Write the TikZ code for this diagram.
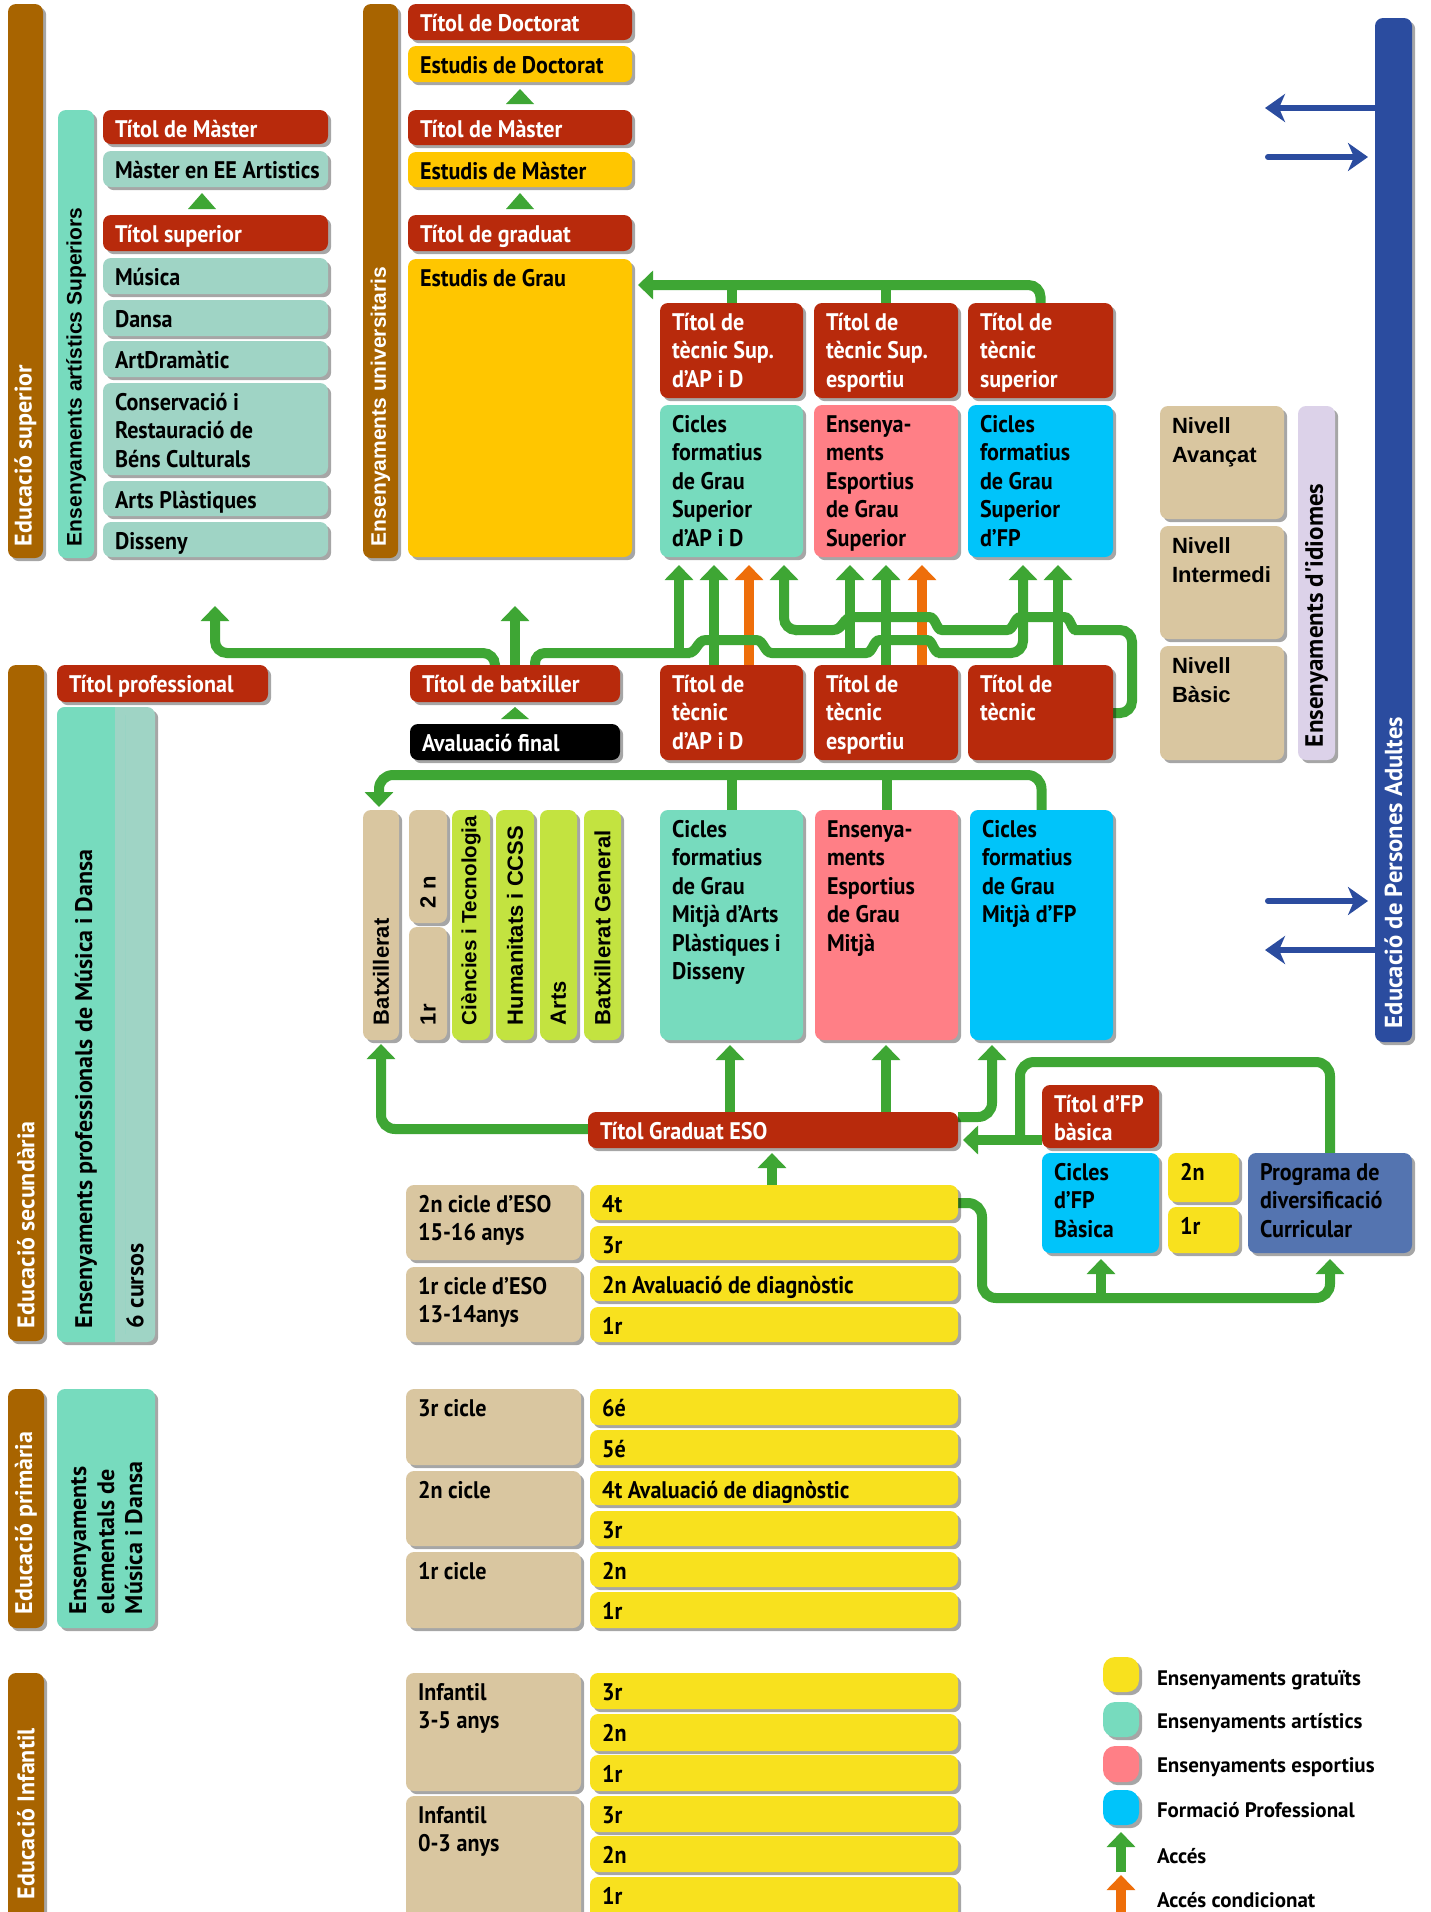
\documentclass[tikz,border=0pt]{standalone}
\usepackage{fontspec}
\setmainfont{PT Sans}[FakeStretch=0.92]
\newfontfamily\nfont{PT Sans}
\newfontfamily\wfont{Liberation Sans}
\usetikzlibrary{shadows,arrows.meta,calc}
\pgfdeclarelayer{bg}
\pgfsetlayers{bg,main}
\definecolor{cbrown}{HTML}{A86400}
\definecolor{cred}{HTML}{B82A0C}
\definecolor{cgold}{HTML}{FFC600}
\definecolor{clemon}{HTML}{F8E11E}
\definecolor{cteal}{HTML}{77DBBE}
\definecolor{clteal}{HTML}{9FD4C5}
\definecolor{cpink}{HTML}{FF7F86}
\definecolor{ccyan}{HTML}{00C4FA}
\definecolor{ctan}{HTML}{D9C6A0}
\definecolor{clime}{HTML}{C3E340}
\definecolor{cprog}{HTML}{5474B0}
\definecolor{cadult}{HTML}{2B4C9F}
\definecolor{clav}{HTML}{DCD2E9}
\definecolor{cgreen}{HTML}{3EA634}
\definecolor{corange}{HTML}{EE6E0A}
\tikzset{
 bxs/.style={rounded corners=4pt, inner sep=0pt, outer sep=0pt, anchor=north west,
   drop shadow={shadow xshift=1.6pt, shadow yshift=-1.6pt, opacity=0.35, fill=black}},
 tx/.style={inner sep=0pt, outer sep=0pt, anchor=base west, font=\bfseries\fontsize{12}{14.25}\selectfont},
 wt/.style={text=white},
 nv/.style={font=\wfont\bfseries\fontsize{11}{14.5}\selectfont},
 vtx/.style={rotate=90, anchor=west, inner sep=0pt, outer sep=0pt, font=\nfont\bfseries\fontsize{12}{14}\selectfont},
 vbr/.style={vtx, text=white, font=\nfont\bfseries\fontsize{12}{14}\selectfont},
 vwx/.style={vtx, font=\wfont\bfseries\fontsize{11}{12}\selectfont},
 vwl/.style={vtx, font=\wfont\bfseries\fontsize{10.5}{12}\selectfont},
 gln/.style={draw=cgreen, line width=5pt},
 garr/.style={gln, -{Triangle[width=14pt,length=7.5pt]}},
 oarr/.style={draw=corange, line width=5pt, -{Triangle[width=14pt,length=7.5pt]}},
 barr/.style={draw=cadult, line width=3pt, line cap=round, -{Stealth[width=14pt,length=10pt,inset=3pt]}},
 lgt/.style={tx, font=\nfont\bfseries\fontsize{10.5}{12}\selectfont},
}
\newcommand\myrb[6]{\node[bxs, minimum width={(#4-#2)*0.5pt}, minimum height={(#5-#3)*0.5pt}, #6] (#1) at (#2,#3) {};}
\newcommand\mybx[8]{\myrb{#1}{#2}{#3}{#4}{#5}{fill=#6}\node[tx, #7] (#1t) at (#2+12,#3+27) {\parbox[t]{150pt}{\raggedright #8}};}
\begin{document}
\begin{tikzpicture}[x=0.5pt,y=-0.5pt]
\useasboundingbox (0,0) rectangle (1430,1912);

% ---------- bars
\myrb{barSup}{8}{4}{43}{558}{fill=cbrown}
\node[vbr] (barSupT) at (25.5,546) {Educació superior};
\myrb{barArt}{58}{110}{94}{558}{fill=cteal}
\node[vwl] (barArtT) at (76,546) {Ensenyaments artístics Superiors};
\myrb{barUni}{363}{4}{398}{558}{fill=cbrown}
\node[vwl, text=white] (barUniT) at (380.5,546) {Ensenyaments universitaris};
\myrb{barSec}{8}{665}{44}{1341}{fill=cbrown}
\node[vbr] (barSecT) at (26,1328) {Educació secundària};
\myrb{ensp}{57}{707}{155}{1342}{fill=clteal}
\fill[cteal, rounded corners=4pt] (57,707) rectangle (125,1342);
\fill[clteal] (115,707) rectangle (125,1342);
\node[vtx] (enspT) at (86,1328) {Ensenyaments professionals de Música i Dansa};
\node[vtx] (enspC) at (135,1328) {6 cursos};
\myrb{barPri}{8}{1389}{44}{1628}{fill=cbrown}
\node[vbr] (barPriT) at (26,1614) {Educació primària};
\myrb{ense}{57}{1389}{155}{1628}{fill=cteal}
\node[vtx, align=left] (enseT) at (106,1614) {Ensenyaments\\elementals de\\Música i Dansa};
\myrb{barInf}{8}{1673}{44}{1930}{fill=cbrown}
\node[vbr] (barInfT) at (26,1899) {Educació Infantil};
\myrb{adult}{1375}{18}{1412}{1042}{fill=cadult}
\node[vbr, font=\nfont\bfseries\fontsize{12.3}{14}\selectfont] (adultT) at (1393.5,1028) {Educació de Persones Adultes};
\myrb{idi}{1298}{406}{1335}{760}{fill=clav}
\node[vtx, font=\nfont\bfseries\fontsize{12.5}{14}\selectfont] (idiT) at (1316.5,747) {Ensenyaments d'idiomes};

% ---------- artistic superior column
\mybx{tm1}{103}{110}{328}{144}{cred}{wt}{Títol de Màster}
\mybx{mee}{103}{151}{328}{187}{clteal}{}{Màster en EE Artistics}
\mybx{tsup}{103}{215}{328}{251}{cred}{wt}{Títol superior}
\mybx{mus}{103}{258}{328}{294}{clteal}{}{Música}
\mybx{dan}{103}{300}{328}{336}{clteal}{}{Dansa}
\mybx{adr}{103}{341}{328}{377}{clteal}{}{ArtDramàtic}
\mybx{con}{103}{383}{328}{475}{clteal}{}{Conservació i\\Restauració de\\Béns Culturals}
\mybx{apl}{103}{481}{328}{516}{clteal}{}{Arts Plàstiques}
\mybx{dis}{103}{522}{328}{557}{clteal}{}{Disseny}

% ---------- university column
\mybx{tdoc}{408}{4}{632}{40}{cred}{wt}{Títol de Doctorat}
\mybx{edoc}{408}{46}{632}{82}{cgold}{}{Estudis de Doctorat}
\mybx{tmas}{408}{110}{632}{145}{cred}{wt}{Títol de Màster}
\mybx{emas}{408}{152}{632}{187}{cgold}{}{Estudis de Màster}
\mybx{tgra}{408}{215}{632}{251}{cred}{wt}{Títol de graduat}
\mybx{egr}{408}{259}{632}{557}{cgold}{}{Estudis de Grau}

% ---------- higher vocational
\mybx{tts1}{660}{303}{803}{398}{cred}{wt}{Títol de\\tècnic Sup.\\d'AP i D}
\mybx{tts2}{814}{303}{958}{398}{cred}{wt}{Títol de\\tècnic Sup.\\esportiu}
\mybx{tts3}{968}{303}{1113}{398}{cred}{wt}{Títol de\\tècnic\\superior}
\mybx{cgs1}{660}{405}{803}{557}{cteal}{}{Cicles\\formatius\\de Grau\\Superior\\d'AP i D}
\mybx{cgs2}{814}{405}{958}{557}{cpink}{}{Ensenya-\\ments\\Esportius\\de Grau\\Superior}
\mybx{cgs3}{968}{405}{1113}{557}{ccyan}{}{Cicles\\formatius\\de Grau\\Superior\\d'FP}

% ---------- languages
\mybx{niv1}{1160}{406}{1284}{519}{ctan}{nv}{Nivell\\Avançat}
\mybx{niv2}{1160}{526}{1284}{639}{ctan}{nv}{Nivell\\Intermedi}
\mybx{niv3}{1160}{646}{1284}{760}{ctan}{nv}{Nivell\\Bàsic}

% ---------- titles middle
\mybx{tt1}{660}{665}{803}{760}{cred}{wt}{Títol de\\tècnic\\d'AP i D}
\mybx{tt2}{814}{665}{958}{760}{cred}{wt}{Títol de\\tècnic\\esportiu}
\mybx{tt3}{968}{665}{1113}{760}{cred}{wt}{Títol de\\tècnic}
\mybx{tprof}{57}{665}{268}{702}{cred}{wt}{Títol professional}
\mybx{tbat}{410}{665}{620}{702}{cred}{wt}{Títol de batxiller}
\mybx{aval}{410}{724}{620}{760}{black}{wt}{Avaluació final}

% ---------- batxillerat
\myrb{bat}{363}{810}{399}{1040}{fill=ctan}
\node[vwx] (batT) at (381,1025) {Batxillerat};
\myrb{b2n}{409}{810}{447}{923}{fill=ctan}
\node[vwx] (b2nT) at (428,908) {2 n};
\myrb{b1r}{409}{927}{447}{1040}{fill=ctan}
\node[vwx] (b1rT) at (428,1025) {1r};
\myrb{bct}{452}{810}{490}{1040}{fill=clime}
\node[vwx, font=\wfont\bfseries\fontsize{10.3}{12}\selectfont] (bctT) at (471,1025) {Ciències i Tecnologia};
\myrb{bhu}{496}{810}{534}{1040}{fill=clime}
\node[vwx] (bhuT) at (515,1025) {Humanitats i CCSS};
\myrb{bar}{540}{810}{577}{1040}{fill=clime}
\node[vwx] (barT) at (558.5,1025) {Arts};
\myrb{bge}{584}{810}{621}{1040}{fill=clime}
\node[vwx] (bgeT) at (602.5,1025) {Batxillerat General};

% ---------- middle vocational
\mybx{cgm1}{660}{810}{803}{1040}{cteal}{}{Cicles\\formatius\\de Grau\\Mitjà d'Arts\\Plàstiques i\\Disseny}
\mybx{cgm2}{815}{810}{958}{1040}{cpink}{}{Ensenya-\\ments\\Esportius\\de Grau\\Mitjà}
\mybx{cgm3}{970}{810}{1113}{1040}{ccyan}{}{Cicles\\formatius\\de Grau\\Mitjà d'FP}

% ---------- ESO
\mybx{tgeso}{588}{1112}{958}{1148}{cred}{wt}{Títol Graduat ESO}
\mybx{tfpb}{1042}{1085}{1159}{1148}{cred}{wt}{Títol d'FP\\bàsica}
\mybx{cfpb}{1042}{1153}{1159}{1253}{ccyan}{}{Cicles\\d'FP\\Bàsica}
\mybx{s2n}{1168}{1153}{1239}{1202}{clemon}{}{2n}
\mybx{s1r}{1168}{1207}{1239}{1253}{clemon}{}{1r}
\mybx{prog}{1248}{1153}{1412}{1253}{cprog}{}{Programa de\\diversificació\\Curricular}

\mybx{e2c}{406}{1185}{581}{1260}{ctan}{}{2n cicle d'ESO\\15-16 anys}
\mybx{e1c}{406}{1267}{581}{1342}{ctan}{}{1r cicle d'ESO\\13-14anys}
\mybx{r4t}{590}{1185}{958}{1220}{clemon}{}{4t}
\mybx{r3r}{590}{1226}{958}{1260}{clemon}{}{3r}
\mybx{r2n}{590}{1266}{958}{1301}{clemon}{}{2n Avaluació de diagnòstic}
\mybx{r1r}{590}{1307}{958}{1342}{clemon}{}{1r}

% ---------- primary
\mybx{p3c}{406}{1389}{581}{1465}{ctan}{}{3r cicle}
\mybx{p6}{590}{1389}{958}{1425}{clemon}{}{6é}
\mybx{p5}{590}{1430}{958}{1465}{clemon}{}{5é}
\mybx{p2c}{406}{1471}{581}{1546}{ctan}{}{2n cicle}
\mybx{p4}{590}{1471}{958}{1505}{clemon}{}{4t Avaluació de diagnòstic}
\mybx{p3}{590}{1511}{958}{1546}{clemon}{}{3r}
\mybx{p1c}{406}{1552}{581}{1628}{ctan}{}{1r cicle}
\mybx{p2}{590}{1552}{958}{1587}{clemon}{}{2n}
\mybx{p1}{590}{1592}{958}{1628}{clemon}{}{1r}

% ---------- infantil
\mybx{i35}{406}{1673}{581}{1791}{ctan}{}{Infantil\\3-5 anys}
\mybx{ia3}{590}{1673}{958}{1709}{clemon}{}{3r}
\mybx{ia2}{590}{1714}{958}{1751}{clemon}{}{2n}
\mybx{ia1}{590}{1755}{958}{1791}{clemon}{}{1r}
\mybx{i03}{406}{1796}{581}{1930}{ctan}{}{Infantil\\0-3 anys}
\mybx{ib3}{590}{1796}{958}{1832}{clemon}{}{3r}
\mybx{ib2}{590}{1836}{958}{1872}{clemon}{}{2n}
\mybx{ib1}{590}{1877}{958}{1930}{clemon}{}{1r}

% ---------- legend
\myrb{lg1}{1103}{1657}{1139}{1692}{fill=clemon, rounded corners=6pt}
\myrb{lg2}{1103}{1702}{1139}{1737}{fill=cteal, rounded corners=6pt}
\myrb{lg3}{1103}{1746}{1139}{1782}{fill=cpink, rounded corners=6pt}
\myrb{lg4}{1103}{1790}{1139}{1825}{fill=ccyan, rounded corners=6pt}
\node[lgt] (lt1) at (1157,1685) {Ensenyaments gratuïts};
\node[lgt] (lt2) at (1157,1728) {Ensenyaments artístics};
\node[lgt] (lt3) at (1157,1772) {Ensenyaments esportius};
\node[lgt] (lt4) at (1157,1817) {Formació Professional};
\node[lgt] (lt5) at (1157,1863) {Accés};
\node[lgt] (lt6) at (1157,1907) {Accés condicionat};
\coordinate (lgA) at (1121,1872);
\coordinate (lgB) at (1121,1916);

\begin{pgfonlayer}{bg}
\fill[white] (0,0) rectangle (1430,1912);
% small triangles
\fill[cgreen] (506,104) -- (520,89) -- (534,104) -- cycle;
\fill[cgreen] (506,209) -- (520,193) -- (534,209) -- cycle;
\fill[cgreen] (188,209) -- (202,193) -- (216,209) -- cycle;
\fill[cgreen] (501,719) -- (515,707) -- (529,719) -- cycle;

% higher titles -> Estudis de Grau
\draw[garr, rounded corners=6pt] (tts3.north) |- (638,285);
\draw[gln] (tts1.north) -- (731.5,283);
\draw[gln] (tts2.north) -- (886,283);

% batxiller connections
\draw[garr, rounded corners=6pt] (495,667) |- (215,653) -- (215,606);
\draw[garr] (tbat.north) -- (515,606);
\draw[gln, rounded corners=5pt] (535,667) |- (690,653);

% conditional (orange)
\draw[oarr] (749,665) -- (749,565);
\draw[oarr] (922,665) -- (922,565);
% tecnic titles up
\draw[garr] (714,665) -- (714,565);
\draw[garr] (886,665) -- (886,565);
\draw[garr] (1058,665) -- (1058,565);
% lower line (batxiller)
\draw[gln] (688,653) .. controls (697,653) and (697,640) .. (706,640) -- (756,640) .. controls (764,640) and (764,653) .. (772,653) -- (866,653) .. controls (873,653) and (873,640) .. (880,640) -- (927,640) .. controls (933,640) and (933,653) .. (940,653);
\draw[garr, rounded corners=6pt] (938,653) -| (1023,565);
\draw[garr] (679,656) -- (679,565);
\draw[garr] (850,656) -- (850,565);
% upper line (tecnic FP)
\draw[gln, rounded corners=6pt] (tt3.east |- 0,713) -| (1132,630) -- (1074,630);
\draw[gln] (1076,630) .. controls (1071,630) and (1071,617) .. (1064,617) -- (1021,617) .. controls (1014,617) and (1014,630) .. (1007,630) -- (942,630) .. controls (936,630) and (936,617) .. (929,617) -- (853,617) .. controls (843,617) and (843,630) .. (833,630) -- (795,630);
\draw[garr, rounded corners=6pt] (797,630) -| (784,565);

% middle cycles -> Batxillerat
\draw[garr, rounded corners=7pt] (cgm3.north) |- (379,775) -- (379,807);
\draw[gln] (cgm1.north) -- (731.5,773);
\draw[gln] (cgm2.north) -- (886.5,773);

% Graduat ESO
\draw[garr, rounded corners=7pt] (tgeso.west |- 0,1129) -| (381,1044);
\draw[garr] (730,1112) -- (730,1045);
\draw[garr] (886,1112) -- (886,1045);
\draw[garr, rounded corners=7pt] (958,1117) -| (992,1045);
\draw[garr] (772,1185) -- (772,1153);
\draw[garr] (tfpb.west |- 0,1140) -- (963,1140);
\draw[gln, rounded corners=7pt] (prog.north -| 1330,0) |- (1020,1062) -- (1020,1142);
\draw[garr, rounded corners=7pt] (957,1203) -| (982,1298) -| (1330,1259);
\draw[garr] (1101,1300) -- (1101,1259);

% adults arrows
\draw[barr] (1377,108) -- (1265,108);
\draw[barr] (1268,157) -- (1368,157);
\draw[barr] (1268,901) -- (1368,901);
\draw[barr] (1377,950) -- (1265,950);

% legend arrows
\draw[garr] (lgA) -- (1121,1832);
\draw[oarr] (lgB) -- (1121,1875);
\end{pgfonlayer}
\end{tikzpicture}
\end{document}
